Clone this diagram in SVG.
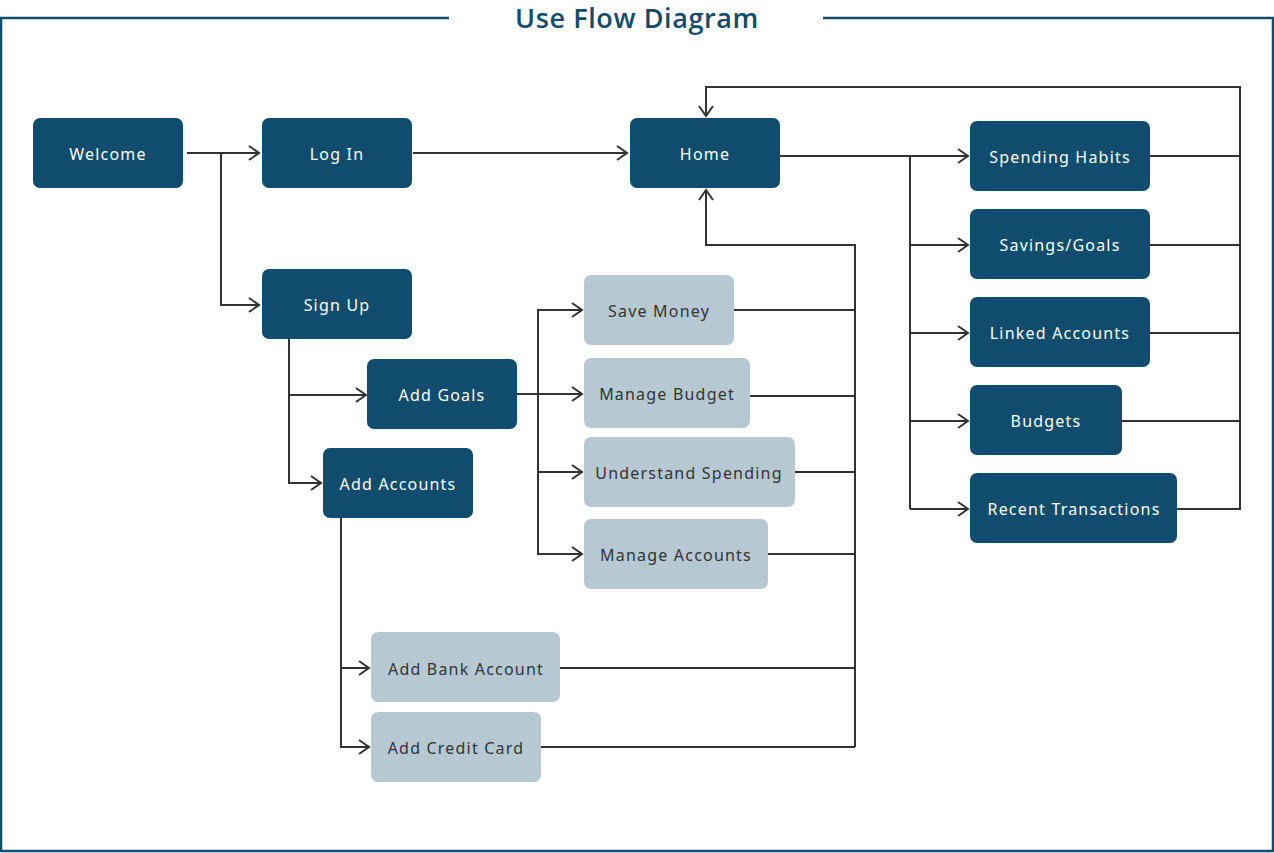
<svg xmlns="http://www.w3.org/2000/svg" width="1274" height="853" viewBox="0 0 1274 853">
<defs>
<marker id="arr" markerUnits="userSpaceOnUse" markerWidth="14" markerHeight="18" refX="12" refY="8" orient="auto">
<path d="M2,1 L12,8 L2,15" fill="none" stroke="#333" stroke-width="2"/>
</marker>
<style>
.dk{fill:#0f4c6e}
.lt{fill:#b6c9d3}
.tw{font-family:"Noto Sans","Open Sans",sans-serif;font-size:16px;fill:#fff;text-anchor:middle;dominant-baseline:central;letter-spacing:1.2px}
.tb{font-family:"Noto Sans","Open Sans",sans-serif;font-size:16px;fill:#333;text-anchor:middle;dominant-baseline:central;letter-spacing:1.2px}
.c{fill:none;stroke:#333;stroke-width:2}
.a{marker-end:url(#arr)}
</style>
</defs>
<rect width="1274" height="853" fill="#fff"/>
<path d="M449,18 H1 V851 H1273 V18 H823" fill="none" stroke="#0f4c6e" stroke-width="2.5"/>
<text x="637" y="28" font-family="'Open Sans','Noto Sans',sans-serif" font-size="27" font-weight="600" letter-spacing="0.6" fill="#0f4c6e" text-anchor="middle">Use Flow Diagram</text>

<g id="connectors">
<path class="c a" d="M187,153 H259"/>
<path class="c a" d="M221,153 V305 H259"/>
<path class="c a" d="M413,153 H627"/>
<path class="c a" d="M780,156 H968"/>
<path class="c" d="M910,156 V509"/>
<path class="c a" d="M910,245 H968"/>
<path class="c a" d="M910,333 H968"/>
<path class="c a" d="M910,421 H968"/>
<path class="c a" d="M910,509 H968"/>
<path class="c" d="M1150,156 H1240"/>
<path class="c" d="M1150,245 H1240"/>
<path class="c" d="M1150,333 H1240"/>
<path class="c" d="M1122,421 H1240"/>
<path class="c a" d="M1177,509 H1240 V87 H706 V116"/>
<path class="c a" d="M855,747 V245 H706 V190"/>
<path class="c" d="M734,310 H855"/>
<path class="c" d="M750,396 H855"/>
<path class="c" d="M795,472 H855"/>
<path class="c" d="M768,554 H855"/>
<path class="c" d="M560,668 H855"/>
<path class="c" d="M541,747 H855"/>
<path class="c a" d="M289,339 V395 H366"/>
<path class="c a" d="M289,395 V483 H321"/>
<path class="c a" d="M517,394 H582"/>
<path class="c a" d="M538,394 V310 H582"/>
<path class="c a" d="M538,394 V472 H582"/>
<path class="c a" d="M538,472 V554 H582"/>
<path class="c a" d="M341,518 V668 H369"/>
<path class="c a" d="M341,668 V747 H369"/>
</g>

<g id="welcome"><rect class="dk" x="33" y="118" width="150" height="70" rx="7"/><text class="tw" x="108" y="154">Welcome</text></g>
<g id="login"><rect class="dk" x="262" y="118" width="150" height="70" rx="7"/><text class="tw" x="337" y="154">Log In</text></g>
<g id="home"><rect class="dk" x="630" y="118" width="150" height="70" rx="7"/><text class="tw" x="705" y="154">Home</text></g>
<g id="signup"><rect class="dk" x="262" y="269" width="150" height="70" rx="7"/><text class="tw" x="337" y="305">Sign Up</text></g>
<g id="addgoals"><rect class="dk" x="367" y="359" width="150" height="70" rx="7"/><text class="tw" x="442" y="395">Add Goals</text></g>
<g id="addaccounts"><rect class="dk" x="323" y="448" width="150" height="70" rx="7"/><text class="tw" x="398" y="484">Add Accounts</text></g>
<g id="savemoney"><rect class="lt" x="584" y="275" width="150" height="70" rx="7"/><text class="tb" x="659" y="311">Save Money</text></g>
<g id="managebudget"><rect class="lt" x="584" y="358" width="166" height="70" rx="7"/><text class="tb" x="667" y="394">Manage Budget</text></g>
<g id="understandspending"><rect class="lt" x="584" y="437" width="211" height="70" rx="7"/><text class="tb" x="689" y="473">Understand Spending</text></g>
<g id="manageaccounts"><rect class="lt" x="584" y="519" width="184" height="70" rx="7"/><text class="tb" x="676" y="555">Manage Accounts</text></g>
<g id="addbank"><rect class="lt" x="371" y="632" width="189" height="70" rx="7"/><text class="tb" x="466" y="669">Add Bank Account</text></g>
<g id="addcredit"><rect class="lt" x="371" y="712" width="170" height="70" rx="7"/><text class="tb" x="456" y="748">Add Credit Card</text></g>
<g id="spending"><rect class="dk" x="970" y="121" width="180" height="70" rx="7"/><text class="tw" x="1060" y="157">Spending Habits</text></g>
<g id="savings"><rect class="dk" x="970" y="209" width="180" height="70" rx="7"/><text class="tw" x="1060" y="245">Savings/Goals</text></g>
<g id="linked"><rect class="dk" x="970" y="297" width="180" height="70" rx="7"/><text class="tw" x="1060" y="333">Linked Accounts</text></g>
<g id="budgets"><rect class="dk" x="970" y="385" width="152" height="70" rx="7"/><text class="tw" x="1046" y="421">Budgets</text></g>
<g id="recent"><rect class="dk" x="970" y="473" width="207" height="70" rx="7"/><text class="tw" x="1074" y="509">Recent Transactions</text></g>
</svg>
